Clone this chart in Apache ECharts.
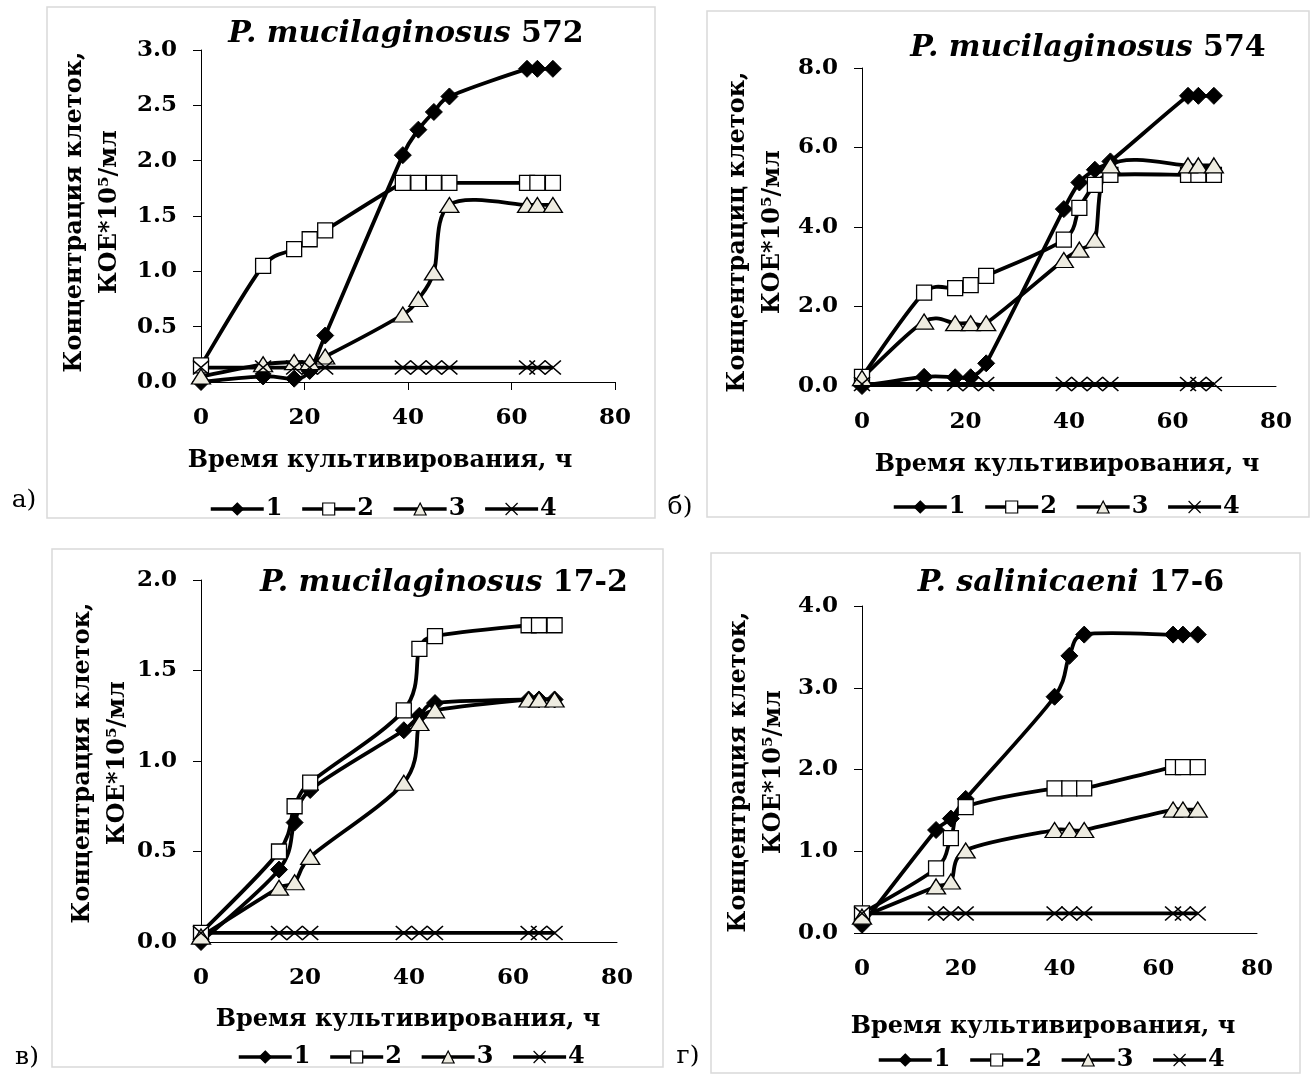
<!DOCTYPE html>
<html>
<head>
<meta charset="utf-8">
<script src="https://cdn.jsdelivr.net/npm/echarts@6/dist/echarts.min.js"></script>
<style>
  html, body { margin: 0; padding: 0; background: #fff; }
  #chart { width: 1316px; height: 1075px; }
</style>
</head>
<body>
<div id="chart"></div>
<script>
// Sampling times, hours
const hoursAB = [0, 12, 18, 21, 24, 39, 42, 45, 48, 63, 65, 68];
const hoursCD = [0, 15, 18, 21, 39, 42, 45, 63, 65, 68];

// P. mucilaginosus 572
const s572_1 = [0.00, 0.05, 0.03, 0.10, 0.42, 2.05, 2.28, 2.44, 2.58, 2.83, 2.83, 2.83];
const s572_2 = [0.15, 1.05, 1.20, 1.29, 1.37, 1.80, 1.80, 1.80, 1.80, 1.80, 1.80, 1.80];
const s572_3 = [0.05, 0.16, 0.18, 0.18, 0.23, 0.61, 0.75, 0.99, 1.60, 1.60, 1.60, 1.60];
const s572_4 = [0.13, 0.13, 0.13, 0.13, 0.13, 0.13, 0.13, 0.13, 0.13, 0.13, 0.13, 0.13];

// P. mucilaginosus 574
const s574_1 = [0.00, 0.23, 0.22, 0.22, 0.57, 4.45, 5.12, 5.44, 5.65, 7.30, 7.30, 7.30];
const s574_2 = [0.23, 2.35, 2.46, 2.54, 2.77, 3.68, 4.48, 5.06, 5.31, 5.31, 5.31, 5.31];
const s574_3 = [0.20, 1.62, 1.58, 1.58, 1.58, 3.17, 3.43, 3.68, 5.55, 5.55, 5.55, 5.55];
const s574_4 = [0.05, 0.05, 0.05, 0.05, 0.05, 0.05, 0.05, 0.05, 0.05, 0.05, 0.05, 0.05];

// P. mucilaginosus 17-2
const s172_1 = [0.00, 0.40, 0.66, 0.84, 1.17, 1.25, 1.32, 1.34, 1.34, 1.34];
const s172_2 = [0.05, 0.50, 0.75, 0.88, 1.28, 1.62, 1.69, 1.75, 1.75, 1.75];
const s172_3 = [0.03, 0.30, 0.33, 0.47, 0.88, 1.21, 1.28, 1.34, 1.34, 1.34];
const s172_4 = [0.05, 0.05, 0.05, 0.05, 0.05, 0.05, 0.05, 0.05, 0.05, 0.05];

// P. salinicaeni 17-6
const s176_1 = [0.10, 1.26, 1.40, 1.64, 2.89, 3.39, 3.65, 3.65, 3.65, 3.65];
const s176_2 = [0.24, 0.79, 1.16, 1.54, 1.77, 1.77, 1.77, 2.03, 2.03, 2.03];
const s176_3 = [0.20, 0.57, 0.63, 1.01, 1.26, 1.26, 1.26, 1.51, 1.51, 1.51];
const s176_4 = [0.24, 0.24, 0.24, 0.24, 0.24, 0.24, 0.24, 0.24, 0.24, 0.24];

// Axis ranges and texts
const yMaxes = [3, 8, 2, 4];
const yIntervals = [0.5, 2, 0.5, 1];
const xMax = 80;
const xInterval = 20;
const speciesNames = ['P. mucilaginosus', 'P. mucilaginosus', 'P. mucilaginosus', 'P. salinicaeni'];
const strainNumbers = ['572', '574', '17-2', '17-6'];
const yTitleFirstLines = ['Концентрация клеток,', 'Концентрациц клеток,', 'Концентрация клеток,', 'Концентрация клеток,'];
const yTitleSecondLine = 'КОЕ*10⁵/мл';
const xTitle = 'Время культивирования, ч';
const panelLetters = ['а)', 'б)', 'в)', 'г)'];
const seriesNames = ['1', '2', '3', '4'];

const panelHours = [hoursAB, hoursAB, hoursCD, hoursCD];
const panelValues = [
  [s572_1, s572_2, s572_3, s572_4],
  [s574_1, s574_2, s574_3, s574_4],
  [s172_1, s172_2, s172_3, s172_4],
  [s176_1, s176_2, s176_3, s176_4]
];

// Page layout of the four panels
const layout = [
  { grid: { left: 201, top: 50, width: 414, height: 332 }, frame: [47, 7, 608, 511],
    title: [406, 34], yTitle: [92, 212], xTitle: [380, 461], legend: [204, 492], letter: [24, 500], xTick: true },
  { grid: { left: 862, top: 68, width: 414, height: 318 }, frame: [707, 11, 602, 506],
    title: [1088, 48], yTitle: [755, 232], xTitle: [1067, 465], legend: [887, 490], letter: [680, 507], xTick: false },
  { grid: { left: 201, top: 580, width: 416, height: 362 }, frame: [52, 549, 611, 518],
    title: [444, 583], yTitle: [100, 763], xTitle: [408, 1020], legend: [232, 1040], letter: [27, 1057], xTick: false },
  { grid: { left: 862, top: 606, width: 395, height: 327 }, frame: [711, 553, 589, 520],
    title: [1071, 583], yTitle: [756, 772], xTitle: [1043, 1027], legend: [872, 1043], letter: [688, 1056], xTick: false }
];

const FONT = '"DejaVu Serif", "Liberation Serif", serif';
const CROSS = 'path://M0,0L10,10M10,0L0,10';
const LINE_WIDTH = 3.8;

const markerStyles = [
  { symbol: 'diamond', symbolSize: [17, 17], itemStyle: { color: '#000', borderColor: '#000', borderWidth: 1 } },
  { symbol: 'rect', symbolSize: [15, 15], itemStyle: { color: '#fff', borderColor: '#000', borderWidth: 1.3 } },
  { symbol: 'triangle', symbolSize: [19, 15], itemStyle: { color: '#EEECE1', borderColor: '#000', borderWidth: 1.3 } },
  { symbol: CROSS, symbolSize: [16, 14], itemStyle: { color: '#000', borderColor: '#000', borderWidth: 1.5 } }
];

// Smoothed curve through pixel points: cubic Bezier segments whose tangents
// come from the neighbouring points (1/6 of the chord), limited by segment length.
function smoothPath(pts) {
  const dist = (a, b) => Math.hypot(b[0] - a[0], b[1] - a[1]);
  let d = 'M' + pts[0][0] + ',' + pts[0][1];
  for (let j = 0; j < pts.length - 1; j++) {
    const p0 = pts[Math.max(j - 1, 0)], p1 = pts[j], p2 = pts[j + 1], p3 = pts[Math.min(j + 2, pts.length - 1)];
    const seg = dist(p1, p2);
    let t1 = [(p2[0] - p0[0]) / 6, (p2[1] - p0[1]) / 6];
    let t2 = [(p3[0] - p1[0]) / 6, (p3[1] - p1[1]) / 6];
    const l1 = Math.hypot(t1[0], t1[1]), l2 = Math.hypot(t2[0], t2[1]);
    if (l1 > seg / 2 && l1 > 0) { t1 = [t1[0] * seg / 2 / l1, t1[1] * seg / 2 / l1]; }
    if (l2 > seg / 2 && l2 > 0) { t2 = [t2[0] * seg / 2 / l2, t2[1] * seg / 2 / l2]; }
    const c1 = [p1[0] + t1[0], p1[1] + t1[1]];
    const c2 = [p2[0] - t2[0], p2[1] - t2[1]];
    d += ' C' + c1[0] + ',' + c1[1] + ' ' + c2[0] + ',' + c2[1] + ' ' + p2[0] + ',' + p2[1];
  }
  return d;
}

const grids = [], xAxes = [], yAxes = [], series = [], legends = [], graphics = [];

layout.forEach((p, i) => {
  grids.push(Object.assign({ containLabel: false }, p.grid));

  xAxes.push({
    type: 'value', gridIndex: i, min: 0, max: xMax, interval: xInterval,
    axisLine: { show: true, onZero: false, lineStyle: { color: '#000', width: 1 } },
    axisTick: { show: p.xTick, length: 8, lineStyle: { color: '#000', width: 1 } },
    splitLine: { show: false },
    axisLabel: { margin: 25, color: '#000', fontFamily: FONT, fontWeight: 'bold', fontSize: 23 }
  });

  yAxes.push({
    type: 'value', gridIndex: i, min: 0, max: yMaxes[i], interval: yIntervals[i],
    axisLine: { show: true, lineStyle: { color: '#000', width: 1 } },
    axisTick: { show: true, length: 8, lineStyle: { color: '#000', width: 1 } },
    splitLine: { show: false },
    axisLabel: { margin: 24, color: '#000', fontFamily: FONT, fontWeight: 'bold', fontSize: 23,
      formatter: v => v.toFixed(1) }
  });

  const hours = panelHours[i];
  panelValues[i].forEach((vals, k) => {
    const m = markerStyles[k];
    const pairs = hours.map((h, j) => [h, vals[j]]);

    // smoothed connecting line
    series.push({
      type: 'custom', coordinateSystem: 'cartesian2d', xAxisIndex: i, yAxisIndex: i,
      data: pairs, silent: true, animation: false,
      encode: { x: 0, y: 1 },
      renderItem: (params, api) => {
        if (params.dataIndex !== 0) return null;
        const pts = pairs.map(pt => api.coord(pt));
        return {
          type: 'path',
          shape: { pathData: smoothPath(pts) },
          style: { fill: 'none', stroke: '#000', lineWidth: LINE_WIDTH, lineJoin: 'round' }
        };
      }
    });

    // markers (the line itself is drawn by the curve above)
    series.push({
      type: 'line', name: seriesNames[k], xAxisIndex: i, yAxisIndex: i,
      data: pairs,
      symbol: m.symbol, symbolSize: m.symbolSize, showAllSymbol: true,
      itemStyle: m.itemStyle,
      lineStyle: { color: '#000', width: LINE_WIDTH, opacity: 0 },
      clip: false, animation: false, silent: true,
      emphasis: { disabled: true }
    });
  });

  legends.push({
    left: p.legend[0], top: p.legend[1], orient: 'horizontal',
    data: seriesNames, selectedMode: false,
    itemWidth: 53, itemHeight: 15, itemGap: 18,
    lineStyle: { color: '#000', width: 3.5, opacity: 1, type: 'solid' },
    itemStyle: { borderWidth: 1.2 },
    textStyle: { color: '#000', fontFamily: FONT, fontWeight: 'bold', fontSize: 24, padding: [0, 0, 0, -3] }
  });

  // panel frame
  graphics.push({
    type: 'rect', silent: true, z: -10,
    shape: { x: p.frame[0], y: p.frame[1], width: p.frame[2], height: p.frame[3] },
    style: { fill: 'none', stroke: '#d9d9d9', lineWidth: 1.5 }
  });

  // strain title
  graphics.push({
    type: 'text', x: p.title[0], y: p.title[1], silent: true,
    style: {
      text: '{sp|' + speciesNames[i] + '}{num| ' + strainNumbers[i] + '}',
      align: 'center', verticalAlign: 'middle',
      rich: {
        sp: { fontFamily: FONT, fontStyle: 'italic', fontWeight: 'bold', fontSize: 30, fill: '#000' },
        num: { fontFamily: FONT, fontWeight: 'bold', fontSize: 30, fill: '#000' }
      }
    }
  });

  // y-axis title, two lines reading bottom-to-top
  graphics.push({
    type: 'text', x: p.yTitle[0], y: p.yTitle[1], rotation: Math.PI / 2, silent: true,
    style: {
      text: yTitleFirstLines[i] + '\n' + yTitleSecondLine,
      font: 'bold 24px ' + FONT, fill: '#000',
      align: 'center', verticalAlign: 'middle', lineHeight: 35
    }
  });

  // x-axis title
  graphics.push({
    type: 'text', x: p.xTitle[0], y: p.xTitle[1], silent: true,
    style: { text: xTitle, font: 'bold 24px ' + FONT, fill: '#000', align: 'center', verticalAlign: 'middle' }
  });

  // panel letter
  graphics.push({
    type: 'text', x: p.letter[0], y: p.letter[1], silent: true,
    style: { text: panelLetters[i], font: 'normal 25px ' + FONT, fill: '#000', align: 'center', verticalAlign: 'middle' }
  });
});

const chart = echarts.init(document.getElementById('chart'), null, { renderer: 'canvas' });
chart.setOption({
  animation: false,
  backgroundColor: '#fff',
  grid: grids,
  xAxis: xAxes,
  yAxis: yAxes,
  legend: legends,
  series: series,
  graphic: { elements: graphics }
});
</script>
</body>
</html>
